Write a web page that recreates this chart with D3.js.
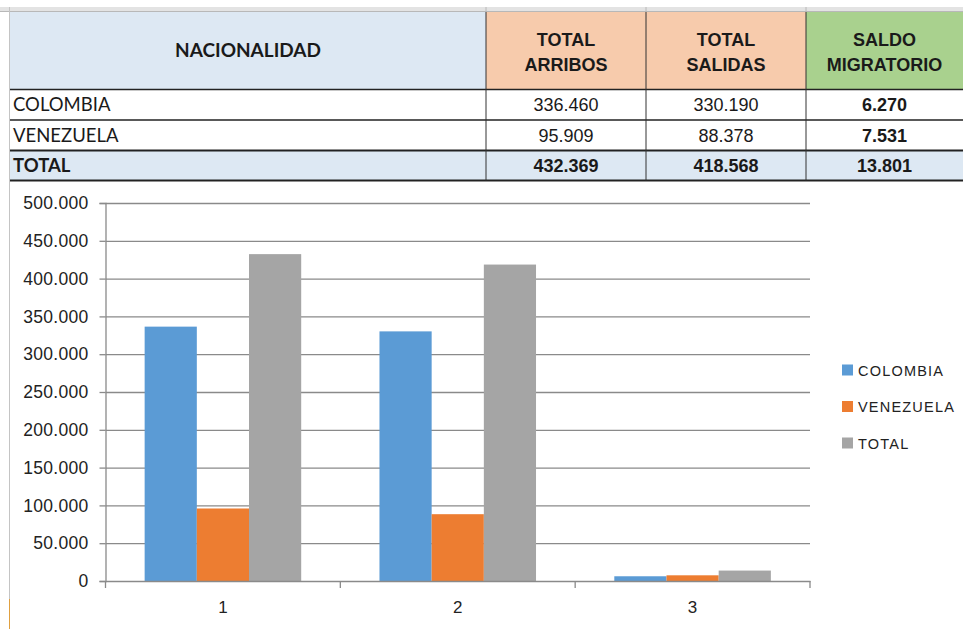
<!DOCTYPE html>
<html>
<head>
<meta charset="utf-8">
<script src="https://cdn.jsdelivr.net/npm/d3@7"></script>
<style>
  body { margin: 0; background: #fff; }
  svg { display: block; }
</style>
</head>
<body>
<div id="chart-area"></div>
<script>
// table data
const nationalities = ["COLOMBIA", "VENEZUELA"];
const arribos = [336460, 95909];
const salidas = [330190, 88378];
const saldo = [6270, 7531];
const totalRow = [432369, 418568, 13801];
const headers = [["NACIONALIDAD"], ["TOTAL", "ARRIBOS"], ["TOTAL", "SALIDAS"], ["SALDO", "MIGRATORIO"]];

// chart data
const categories = ["1", "2", "3"];
const series = ["COLOMBIA", "VENEZUELA", "TOTAL"];
const yTicks = [0, 50000, 100000, 150000, 200000, 250000, 300000, 350000, 400000, 450000, 500000];

const colors = {"COLOMBIA": "#5b9bd5", "VENEZUELA": "#ed7d31", "TOTAL": "#a5a5a5"};
const headFill = ["#dde8f3", "#f7cbac", "#f7cbac", "#a9d18e"];

const W = 963, H = 629;
const es = d3.formatLocale({decimal: ",", thousands: ".", grouping: [3], currency: ["", ""]});
const fmt = es.format(",d");

const svg = d3.select("#chart-area").append("svg")
    .attr("width", W)
    .attr("height", H);

// ---------- table ----------
const colX = [10, 486, 646, 806, 963];
const rowY = [12, 89.5, 120, 150.5, 180.5];
const calibri = "Lato, 'Open Sans', sans-serif";
const arial = "'Liberation Sans', Arial, sans-serif";

// spreadsheet header strip
svg.append("rect").attr("x", 0).attr("y", 7).attr("width", W).attr("height", 5).attr("fill", "#e3e3e3");
svg.append("line").attr("x1", 0).attr("x2", W).attr("y1", 11.5).attr("y2", 11.5).attr("stroke", "#b8b8b8");
svg.append("line").attr("x1", 9.5).attr("x2", 9.5).attr("y1", 7).attr("y2", H).attr("stroke", "#c4c4c4");
svg.append("line").attr("x1", 9.5).attr("x2", 9.5).attr("y1", 599).attr("y2", H).attr("stroke", "#e0a040");

// header cells
headers.forEach(function(h, i){
    svg.append("rect")
       .attr("x", colX[i]).attr("y", rowY[0])
       .attr("width", colX[i+1] - colX[i]).attr("height", rowY[1] - rowY[0])
       .attr("fill", headFill[i]);
    const cx = (colX[i] + colX[i+1]) / 2;
    const t = svg.append("text")
       .attr("x", cx)
       .attr("text-anchor", "middle")
       .attr("font-family", i == 0 ? calibri : arial)
       .attr("font-weight", "bold")
       .attr("font-size", i == 0 ? 19 : 18)
       .attr("fill", "#1a1a1a");
    if (h.length == 1) {
        t.attr("y", 57).text(h[0]);
    } else {
        t.attr("y", 46).text(h[0]);
        t.append("tspan").attr("x", cx).attr("y", 71).text(h[1]);
    }
});

// total row background
svg.append("rect")
   .attr("x", colX[0]).attr("y", rowY[3])
   .attr("width", W - colX[0]).attr("height", rowY[4] - rowY[3])
   .attr("fill", "#dde8f3");

const rows = nationalities.map(function(n, i){
    return {name: n, vals: [arribos[i], salidas[i], saldo[i]], bold: false};
});
rows.push({name: "TOTAL", vals: totalRow, bold: true});

rows.forEach(function(r, i){
    const yc = (rowY[i+1] + rowY[i+2]) / 2;
    svg.append("text")
       .attr("x", 13).attr("y", yc + 6.5)
       .attr("font-family", calibri)
       .attr("font-size", 18.5)
       .attr("font-weight", r.bold ? "bold" : "normal")
       .attr("fill", "#1a1a1a")
       .text(r.name);
    r.vals.forEach(function(v, j){
        svg.append("text")
           .attr("x", (colX[j+1] + colX[j+2]) / 2).attr("y", yc + 6.5)
           .attr("text-anchor", "middle")
           .attr("font-family", arial)
           .attr("font-size", 18)
           .attr("font-weight", (r.bold || j == 2) ? "bold" : "normal")
           .attr("fill", "#1a1a1a")
           .text(fmt(v));
    });
});

// table borders
[rowY[1], rowY[2]].forEach(function(y){
    svg.append("line").attr("x1", colX[0]).attr("x2", W).attr("y1", y).attr("y2", y)
       .attr("stroke", "#222").attr("stroke-width", 1.5);
});
[rowY[3], rowY[4]].forEach(function(y){
    svg.append("line").attr("x1", colX[0]).attr("x2", W).attr("y1", y).attr("y2", y)
       .attr("stroke", "#222").attr("stroke-width", 2);
});
colX.slice(1, 4).forEach(function(x){
    svg.append("line").attr("x1", x).attr("x2", x).attr("y1", rowY[0]).attr("y2", rowY[4])
       .attr("stroke", "#333").attr("stroke-width", 1);
    svg.append("line").attr("x1", x).attr("x2", x).attr("y1", 7).attr("y2", 12).attr("stroke", "#b8b8b8");
});

// ---------- chart ----------
const plot = {left: 105.5, right: 810, top: 203, bottom: 581};
const g = svg.append("g");

const values = {
    "COLOMBIA": [arribos[0], salidas[0], saldo[0]],
    "VENEZUELA": [arribos[1], salidas[1], saldo[1]],
    "TOTAL": totalRow
};
const data = categories.map(function(c, i){
    return {cat: c, bars: series.map(function(s){ return {key: s, value: values[s][i]}; })};
});

const yScale = d3.scaleLinear().domain([0, 500000]).range([plot.bottom, plot.top]);
const x0 = d3.scaleBand().domain(categories).range([plot.left, plot.right]).padding(0);
const x1 = d3.scaleBand().domain(series).range([0, x0.bandwidth()]).paddingInner(0).paddingOuter(0.75);

// gridlines
g.append("g")
 .attr("class", "grid")
 .attr("transform", `translate(${plot.left},0)`)
 .call(d3.axisLeft(yScale).tickValues(yTicks.slice(1)).tickSize(-(plot.right - plot.left)).tickFormat(""))
 .call(s => s.select(".domain").remove())
 .selectAll("line").attr("stroke", "#8a8a8a").attr("stroke-width", 1.3);

// bars
g.selectAll("g.cat")
 .data(data)
 .enter()
 .append("g")
 .attr("class", "cat")
 .attr("transform", d => `translate(${x0(d.cat)},0)`)
 .selectAll("rect")
 .data(d => d.bars)
 .enter()
 .append("rect")
 .attr("x", d => x1(d.key))
 .attr("width", x1.bandwidth())
 .attr("y", d => yScale(d.value))
 .attr("height", d => yScale(0) - yScale(d.value))
 .attr("fill", d => colors[d.key]);

// y axis
const yAxis = g.append("g")
 .attr("transform", `translate(${plot.left},0)`)
 .call(d3.axisLeft(yScale).tickValues(yTicks).tickFormat(d => fmt(d)).tickSizeOuter(0).tickSize(6).tickPadding(11));
yAxis.selectAll("line, path").attr("stroke", "#8a8a8a").attr("stroke-width", 1.3);
yAxis.selectAll("text").attr("font-family", arial).attr("font-size", 17.5).attr("letter-spacing", 0.3).attr("fill", "#222");

// x axis
const xAxis = g.append("g")
 .attr("transform", `translate(0,${plot.bottom})`)
 .call(d3.axisBottom(x0).tickSize(0).tickSizeOuter(0).tickPadding(20));
xAxis.selectAll("path").attr("stroke", "#8a8a8a").attr("stroke-width", 1.3);
xAxis.selectAll("text").attr("font-family", arial).attr("font-size", 17).attr("fill", "#222");
// boundary ticks between categories
xAxis.selectAll("line.bound")
 .data(categories.map(c => x0(c)).concat([plot.right]))
 .enter()
 .append("line")
 .attr("class", "bound")
 .attr("x1", d => d).attr("x2", d => d)
 .attr("y1", 0).attr("y2", 7)
 .attr("stroke", "#8a8a8a").attr("stroke-width", 1.3);

// legend
const legend = svg.append("g").attr("transform", "translate(842,0)");
series.forEach(function(s, i){
    const y = 370 + i * 36.5;
    legend.append("rect")
          .attr("x", 0).attr("y", y - 5.5)
          .attr("width", 11).attr("height", 11)
          .attr("fill", colors[s]);
    legend.append("text")
          .attr("x", 16).attr("y", y + 5.5)
          .attr("font-family", arial)
          .attr("font-size", 14.5)
          .attr("letter-spacing", 1.2)
          .attr("fill", "#222")
          .text(s);
});
</script>
</body>
</html>
